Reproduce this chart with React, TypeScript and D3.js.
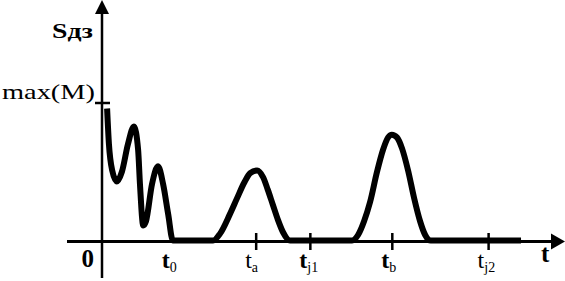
import * as d3 from "d3";

// curve S(t): initial oscillation, then two bumps, t in arbitrary units 0..10
const tValues = [
  0.11, 0.15, 0.22, 0.32, 0.43, 0.56, 0.69, 0.78, 0.82, 0.89, 0.95, 1.08, 1.21, 1.32, 1.43, 1.53,
  2.4, 2.55, 2.76, 2.92, 3.07, 3.2, 3.35, 3.48, 3.58, 3.69, 3.8, 3.91, 4.06,
  5.4, 5.53, 5.66, 5.79, 5.94, 6.07, 6.18, 6.26, 6.37, 6.48, 6.61, 6.74, 6.87, 6.98, 7.1,
  9.05,
];
const sValues = [
  0.96, 0.7, 0.51, 0.43, 0.5, 0.7, 0.83, 0.66, 0.41, 0.11, 0.14, 0.41, 0.54, 0.41, 0.19, 0,
  0, 0.05, 0.19, 0.31, 0.42, 0.49, 0.51, 0.46, 0.37, 0.26, 0.15, 0.06, 0,
  0, 0.04, 0.14, 0.28, 0.5, 0.66, 0.75, 0.77, 0.75, 0.67, 0.51, 0.31, 0.14, 0.04, 0,
  0,
];

const tickNames = ["t0", "ta", "tj1", "tb", "tj2"];
const tickMain = ["t", "t", "t", "t", "t"];
const tickSubs = ["0", "a", "j1", "b", "j2"];
const tickBold = [true, false, true, true, false];
const tickPositions = [1.53, 3.33, 4.5, 6.27, 8.35];
const tickShown = [false, true, true, true, true];

const W = 565;
const H = 281;
const FONT = "'Liberation Serif', 'Times New Roman', serif";

export default function App() {
  const x = d3.scaleLinear().domain([0, 10]).range([102, 565]);
  const y = d3.scaleLinear().domain([0, 1]).range([240.5, 103]);
  const axisY = 241.5;

  const pts = tValues.map((t, i) => [t, sValues[i]] as [number, number]);
  const line = d3
    .line<[number, number]>()
    .x((d) => x(d[0]))
    .y((d) => y(d[1]))
    .curve(d3.curveMonotoneX);

  const x0 = x(0);

  return (
    <svg
      width={W}
      height={H}
      style={{ position: "absolute", left: 0, top: 0, background: "#fff" }}
      fontFamily={FONT}
    >
      {/* axes */}
      <line x1={67} x2={553} y1={axisY} y2={axisY} stroke="#000" strokeWidth={3} />
      <path d={`M565,${axisY} L551,${axisY - 8} L551,${axisY + 8} Z`} fill="#000" />
      <line x1={x0} x2={x0} y1={12} y2={278} stroke="#000" strokeWidth={2.5} />
      <path d={`M${x0},0 L${x0 - 7},14 L${x0 + 7},14 Z`} fill="#000" />

      {/* max(M) tick */}
      <line x1={95} x2={110} y1={y(1)} y2={y(1)} stroke="#000" strokeWidth={2.5} />
      <text x={2} y={99} fontSize={21} textLength={93} lengthAdjust="spacingAndGlyphs">
        max(M)
      </text>

      {/* x ticks */}
      {tickPositions.map((t, i) =>
        tickShown[i] ? (
          <line
            key={"tk" + tickNames[i]}
            x1={x(t)}
            x2={x(t)}
            y1={233}
            y2={250}
            stroke="#000"
            strokeWidth={2.5}
          />
        ) : null
      )}

      {/* curve */}
      <path d={line(pts) ?? ""} fill="none" stroke="#000" strokeWidth={6} strokeLinejoin="round" />

      {/* tick labels */}
      {tickPositions.map((t, i) => (
        <text
          key={tickNames[i]}
          x={x(t) - 11}
          y={268}
          fontSize={24}
          fontWeight={tickBold[i] ? "bold" : "normal"}
        >
          {tickMain[i]}
          <tspan dy={4} fontSize={14} fontWeight="normal">
            {tickSubs[i]}
          </tspan>
        </text>
      ))}

      {/* axis labels */}
      <text x={94} y={267} fontSize={25} fontWeight="bold" textAnchor="end">
        0
      </text>
      <text x={541} y={262} fontSize={25} fontWeight="bold">
        t
      </text>
      <text x={52} y={38} fontSize={22} fontWeight="bold" textLength={41} lengthAdjust="spacingAndGlyphs">
        Sдз
      </text>
    </svg>
  );
}
